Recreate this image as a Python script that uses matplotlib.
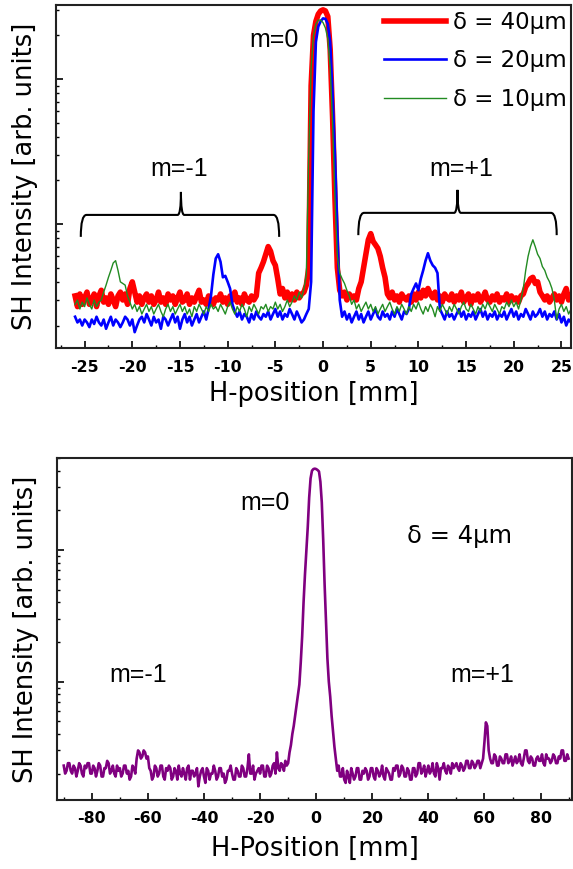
import numpy as np
import matplotlib.pyplot as plt
from matplotlib.path import Path
from matplotlib.patches import PathPatch
from matplotlib.ticker import MultipleLocator, NullFormatter

plt.rcParams["axes.unicode_minus"] = False

# ---- values (SH intensity, arb. units, log axis) ----
# upper panel: scan from -26 to 26 mm, one reading every 0.25 mm
top_x_range = (-26.0, 26.0)
red_40um = [
    3.2, 2.7, 3.3, 2.8, 3.1, 3.4, 2.8, 3.0, 3.3, 2.7, 3.2, 3.5, 2.9, 3.1, 2.8, 3.3, 3.0, 2.7, 3.2, 3.4,
    3.0, 3.3, 2.8, 3.6, 4.0, 3.4, 2.9, 3.2, 2.8, 3.1, 3.3, 2.9, 3.2, 2.8, 3.0, 3.4, 2.9, 3.1, 2.8, 3.3,
    3.0, 3.2, 2.8, 3.1, 3.4, 2.9, 3.0, 3.3, 2.8, 3.1, 2.9, 3.2, 3.5, 2.9, 3.0, 2.8, 3.2, 3.0, 2.8, 3.1,
    3.0, 3.3, 2.9, 3.1, 2.8, 3.2, 3.0, 3.4, 2.9, 3.1, 2.8, 3.3, 3.0, 2.9, 3.2, 3.0, 3.2, 4.6, 5.0, 5.5,
    6.2, 7.0, 6.5, 5.6, 5.2, 4.2, 3.3, 3.6, 3.1, 3.4, 3.0, 3.3, 3.0, 3.4, 3.1, 3.3, 3.4, 3.8, 5.0, 90,
    200, 250, 280, 295, 300, 295, 270, 160, 55, 15, 5.0, 3.5, 3.2, 3.4, 3.0, 3.3, 3.1, 3.2, 3.0, 3.6,
    4.0, 5.0, 6.2, 7.8, 8.6, 7.6, 7.2, 6.8, 6.0, 5.0, 4.3, 3.3, 3.1, 3.4, 3.0, 3.2, 2.9, 3.3, 3.1, 3.0,
    3.2, 2.9, 3.3, 3.0, 3.4, 3.1, 3.5, 3.2, 3.6, 3.3, 3.1, 3.4, 3.0, 3.2, 2.9, 3.3, 3.1, 3.0, 3.3, 2.9,
    3.2, 3.0, 3.4, 2.9, 3.1, 3.3, 2.8, 3.2, 3.0, 3.3, 2.9, 3.1, 3.4, 3.0, 2.9, 3.2, 3.0, 3.3, 2.9, 3.1,
    3.0, 3.3, 2.9, 3.2, 3.0, 3.1, 2.9, 3.2, 3.3, 3.7, 3.9, 4.2, 4.3, 3.9, 4.0, 3.4, 3.2, 3.0, 3.2, 2.9,
    3.1, 3.3, 3.0, 3.2, 2.9, 3.3, 3.6, 3.0, 3.2,
]
blue_20um = [
    2.3, 2.1, 2.2, 2.0, 2.2, 2.1, 1.95, 2.2, 2.05, 2.3, 2.1, 2.0, 2.2, 1.9, 2.1, 2.3, 2.0, 2.2, 2.1, 1.95,
    2.1, 2.3, 2.2, 2.0, 2.2, 1.8, 2.0, 2.2, 2.3, 2.1, 2.4, 2.2, 2.0, 2.3, 2.1, 2.2, 1.9, 2.3, 2.2, 2.0,
    2.2, 2.4, 2.1, 2.3, 1.9, 2.2, 2.4, 2.1, 2.3, 2.0, 2.2, 2.4, 2.1, 2.3, 2.5, 2.2, 2.6, 3.2, 4.5, 5.8,
    6.2, 5.5, 4.3, 4.4, 4.0, 3.6, 2.8, 2.5, 2.3, 2.5, 2.2, 2.4, 2.3, 2.1, 2.4, 2.2, 2.5, 2.3, 2.2, 2.4,
    2.3, 2.5, 2.2, 2.4, 2.6, 2.3, 2.5, 2.2, 2.4, 2.3, 2.6, 2.4, 2.2, 2.5, 2.3, 2.1, 2.2, 2.4, 2.6, 4.0,
    60, 180, 230, 250, 262, 260, 240, 180, 80, 30, 9.0, 3.0, 2.3, 2.5, 2.2, 2.4, 2.1, 2.3, 2.5, 2.2,
    2.4, 2.1, 2.3, 2.5, 2.2, 2.4, 2.6, 2.3, 2.2, 2.5, 2.3, 2.4, 2.2, 2.5, 2.3, 2.6, 2.4, 2.2, 2.5, 2.4,
    2.6, 3.3, 3.6, 3.9, 3.5, 4.2, 4.8, 5.6, 6.3, 5.6, 5.2, 5.0, 4.6, 2.6, 2.4, 2.2, 2.5, 2.3, 2.4, 2.2,
    2.4, 2.6, 2.3, 2.5, 2.2, 2.4, 2.3, 2.5, 2.2, 2.4, 2.6, 2.3, 2.5, 2.2, 2.4, 2.3, 2.5, 2.2, 2.4, 2.3,
    2.5, 2.2, 2.4, 2.6, 2.3, 2.5, 2.2, 2.4, 2.3, 2.6, 2.4, 2.2, 2.5, 2.3, 2.4, 2.6, 2.3, 2.5, 2.2, 2.4,
    2.3, 2.5, 2.2, 2.4, 2.1, 2.3, 2.0, 2.2, 2.1,
]
green_10um = [
    2.8, 3.0, 2.6, 2.9, 2.7, 3.1, 2.8, 2.6, 3.0, 2.7, 2.9, 3.0, 3.4, 3.8, 4.3, 4.8, 5.4, 5.6, 4.8, 4.0,
    3.9, 3.8, 3.2, 2.9, 2.6, 2.8, 2.5, 2.7, 2.4, 2.6, 2.8, 2.5, 2.7, 2.4, 2.6, 2.8, 2.5, 2.3, 2.6, 2.8,
    2.5, 2.7, 2.4, 2.6, 2.8, 2.5, 2.7, 2.4, 2.6, 2.3, 2.7, 2.5, 2.8, 2.6, 2.4, 2.7, 2.5, 2.8, 2.6, 2.7,
    2.5, 2.8, 2.6, 2.4, 2.7, 2.9, 2.6, 2.4, 2.7, 2.5, 2.8, 2.6, 2.3, 2.7, 2.5, 2.8, 2.6, 2.4, 2.7, 2.6,
    2.8, 2.5, 2.7, 2.6, 2.9, 2.6, 2.8, 2.5, 2.7, 3.0, 2.7, 2.9, 3.2, 3.0, 3.4, 3.1, 3.6, 4.5, 30, 120,
    200, 240, 255, 255, 245, 225, 190, 120, 50, 15, 6.0, 4.6, 4.2, 3.9, 3.5, 3.2, 2.8, 3.0, 2.6, 2.8,
    2.5, 2.7, 2.9, 2.6, 2.8, 2.5, 2.7, 2.4, 2.6, 2.8, 2.5, 2.7, 2.9, 2.6, 2.4, 2.7, 2.5, 2.8, 2.6, 2.4,
    2.7, 2.5, 2.8, 2.6, 2.9, 2.6, 2.4, 2.7, 2.5, 2.8, 2.6, 2.3, 2.7, 2.5, 2.8, 2.6, 2.4, 2.7, 2.5, 2.8,
    2.6, 2.4, 2.7, 2.9, 2.6, 2.5, 2.8, 2.6, 2.4, 2.7, 2.5, 2.8, 2.6, 2.9, 2.7, 2.5, 2.8, 2.6, 2.4, 2.7,
    2.6, 2.9, 2.7, 3.0, 2.7, 2.9, 2.6, 3.0, 3.6, 4.8, 6.0, 7.0, 7.8, 7.0, 6.2, 5.8, 5.1, 4.8, 4.3, 4.0,
    3.6, 3.0, 2.2, 2.6, 2.8, 2.5, 2.7, 2.4, 2.6,
]
top_series = [red_40um, blue_20um, green_10um]
top_labels = ["δ = 40μm", "δ = 20μm", "δ = 10μm"]
top_colors = ["#ff0000", "#0000ff", "#228b22"]
top_widths = [4.0, 1.9, 1.0]

# lower panel: scan from -90 to 90 mm, one reading every 0.5 mm
bottom_x_range = (-90.0, 90.0)
purple_4um = [
    2.3, 2.0, 2.1, 2.4, 2.4, 2.1, 2.0, 2.3, 2.2, 1.9, 2.1, 2.4, 2.3, 2.0, 1.9, 2.3, 2.2, 2.4, 2.4, 2.0,
    2.0, 2.3, 2.2, 1.9, 2.1, 2.4, 2.3, 1.9, 1.9, 2.2, 2.2, 2.5, 2.4, 2.0, 2.1, 2.3, 2.0, 1.9, 2.3, 2.1,
    2.2, 1.9, 2.0, 2.3, 2.3, 2.0, 2.1, 1.8, 1.9, 2.3, 2.2, 2.0, 2.6, 3.0, 2.9, 2.6, 2.7, 3.0, 2.9, 2.6,
    2.7, 2.2, 2.1, 1.8, 1.9, 2.3, 2.2, 1.9, 2.0, 2.3, 2.3, 1.9, 1.8, 2.2, 2.1, 2.3, 2.2, 1.8, 1.9, 2.2,
    2.1, 1.8, 2.3, 2.0, 1.9, 2.2, 2.0, 1.8, 2.2, 2.3, 1.8, 2.1, 2.1, 1.9, 2.0, 2.2, 1.6, 1.9, 2.1, 2.2,
    1.9, 1.7, 2.2, 2.1, 1.8, 2.0, 2.0, 2.3, 2.1, 1.8, 1.9, 2.2, 2.2, 1.9, 2.0, 1.7, 1.8, 2.1, 2.1, 2.3,
    2.0, 1.8, 1.8, 2.2, 2.1, 1.9, 1.9, 2.3, 2.2, 1.9, 1.9, 2.2, 2.8, 2.0, 2.0, 2.3, 1.8, 2.0, 2.1, 2.2,
    2.0, 2.3, 2.3, 1.9, 1.9, 2.3, 2.2, 1.9, 2.0, 2.3, 2.4, 2.0, 2.9, 2.2, 2.1, 2.4, 2.3, 2.1, 2.5, 2.3,
    2.4, 2.9, 3.3, 4.0, 4.6, 5.5, 6.5, 7.8, 9.5, 14, 22, 40, 65, 100, 150, 250, 350, 400, 412, 415,
    412, 405, 395, 330, 230, 120, 55, 28, 15, 10, 7.7, 5.5, 4.2, 3.2, 2.6, 2.1, 2.3, 1.9, 1.9, 2.2,
    1.8, 1.7, 2.1, 1.9, 1.7, 2.2, 2.0, 1.8, 1.9, 2.2, 2.2, 1.8, 1.8, 2.1, 2.0, 2.2, 2.1, 1.8, 1.9, 2.2,
    2.2, 1.9, 1.8, 2.2, 2.1, 1.9, 2.0, 2.3, 1.9, 1.8, 2.2, 2.1, 2.0, 1.8, 1.8, 2.2, 2.1, 2.3, 2.3, 1.9,
    2.0, 2.3, 2.2, 1.9, 1.9, 2.2, 2.1, 1.8, 1.8, 2.2, 2.2, 1.9, 2.0, 2.4, 2.4, 2.0, 2.1, 2.3, 1.9, 2.1,
    2.3, 2.0, 2.1, 2.4, 2.0, 1.9, 2.4, 2.2, 1.8, 2.2, 2.2, 2.4, 2.1, 2.0, 2.3, 2.2, 2.0, 2.4, 2.2, 2.3,
    2.4, 2.2, 2.1, 2.4, 2.3, 2.1, 2.2, 2.5, 2.5, 2.2, 2.2, 2.5, 2.4, 2.2, 2.3, 2.5, 2.5, 2.2, 2.4, 2.6,
    3.5, 4.9, 4.6, 3.0, 2.6, 2.4, 2.4, 2.8, 2.7, 2.3, 2.3, 2.7, 2.6, 2.4, 2.4, 2.8, 2.8, 2.4, 2.5, 2.7,
    2.3, 2.5, 2.7, 2.4, 2.5, 2.8, 2.4, 2.3, 2.6, 3.0, 3.0, 2.5, 2.4, 2.7, 2.6, 2.3, 2.3, 2.6, 2.7, 2.5,
    2.5, 2.8, 2.4, 2.3, 2.8, 2.6, 2.6, 2.4, 2.5, 2.8, 2.7, 2.4, 2.4, 2.7, 2.6, 3.0, 3.0, 2.5, 2.5, 2.8,
    2.6,
]
purple_color = "#800080"

LABEL_FONT = "DejaVu Sans"
NOTE_FONT = "Liberation Sans"


def style_axes(ax, major, minor, xlim, ylim, pad):
    ax.set_yscale("log")
    ax.set_xlim(*xlim)
    ax.set_ylim(*ylim)
    ax.xaxis.set_major_locator(MultipleLocator(major))
    ax.xaxis.set_minor_locator(MultipleLocator(minor))
    ax.yaxis.set_major_formatter(NullFormatter())
    ax.yaxis.set_minor_formatter(NullFormatter())
    ax.tick_params(which="both", direction="in", top=False, right=False)
    ax.tick_params(which="major", length=5, width=1.2, pad=pad)
    ax.tick_params(which="minor", length=2.5, width=1.0)
    for lab in ax.get_xticklabels():
        lab.set_fontfamily(LABEL_FONT)
        lab.set_fontweight("bold")
        lab.set_fontsize(11.3)
    for sp in ax.spines.values():
        sp.set_linewidth(1.5)
        sp.set_color("#222222")


def brace(ax, x0, x1, xm, y_end, y_base, y_tip, dx=0.6, dt=0.35):
    # curly bracket, x in data units, y in axes fraction
    verts = [(x0, y_end), (x0, y_base), (x0 + dx, y_base),
             (xm - dt, y_base),
             (xm, y_base), (xm, y_tip),
             (xm, y_base), (xm + dt, y_base),
             (x1 - dx, y_base),
             (x1, y_base), (x1, y_end)]
    codes = [Path.MOVETO, Path.CURVE3, Path.CURVE3,
             Path.LINETO,
             Path.CURVE3, Path.CURVE3,
             Path.CURVE3, Path.CURVE3,
             Path.LINETO,
             Path.CURVE3, Path.CURVE3]
    patch = PathPatch(Path(verts, codes), fill=False, lw=1.5, color="black",
                      transform=ax.get_xaxis_transform(), clip_on=False)
    ax.add_patch(patch)


fig = plt.figure(figsize=(5.73, 8.69), dpi=100)

# ---------------- upper panel ----------------
ax1 = fig.add_axes([56 / 573, 521 / 869, 515 / 573, 343 / 869])
for vals, lab, col, lw in zip(top_series, top_labels, top_colors, top_widths):
    x = np.linspace(top_x_range[0], top_x_range[1], len(vals))
    ax1.plot(x, vals, color=col, lw=lw, label=lab)
style_axes(ax1, 5, 2.5, (-28, 26), (1.4, 324), 9)

ax1.set_xlabel("H-position [mm]", fontsize=18.5, family=LABEL_FONT)
ax1.set_ylabel("SH Intensity [arb. units]", fontsize=18.5, family=LABEL_FONT)
ax1.xaxis.set_label_coords(0.5, -0.097)
ax1.yaxis.set_label_coords(-0.035, 0.5)

ax1.legend(loc="upper right", bbox_to_anchor=(1.0, 0.997), frameon=False,
           prop={"family": LABEL_FONT, "size": 16.5}, handlelength=2.7,
           handletextpad=0.3, labelspacing=0.68, borderaxespad=0.1, borderpad=0.1)

tr1 = ax1.get_xaxis_transform()
ax1.text(-5.1, 0.878, "m=0", transform=tr1, ha="center", va="baseline",
         fontsize=18, family=NOTE_FONT)
ax1.text(-15.1, 0.5, "m=-1", transform=tr1, ha="center", va="baseline",
         fontsize=18, family=NOTE_FONT)
ax1.text(14.5, 0.5, "m=+1", transform=tr1, ha="center", va="baseline",
         fontsize=18, family=NOTE_FONT)
brace(ax1, -25.4, -4.6, -14.9, 0.324, 0.388, 0.455)
brace(ax1, 3.7, 24.5, 14.1, 0.329, 0.394, 0.461)

# ---------------- lower panel ----------------
ax2 = fig.add_axes([57 / 573, 69 / 869, 515 / 573, 342 / 869])
xb = np.linspace(bottom_x_range[0], bottom_x_range[1], len(purple_4um))
ax2.plot(xb, purple_4um, color=purple_color, lw=1.9)
style_axes(ax2, 20, 10, (-92.4, 91.2), (1.26, 500), 8)

ax2.set_xlabel("H-Position [mm]", fontsize=18.5, family=LABEL_FONT)
ax2.set_ylabel("SH Intensity [arb. units]", fontsize=18.5, family=LABEL_FONT)
ax2.xaxis.set_label_coords(0.5, -0.106)
ax2.yaxis.set_label_coords(-0.035, 0.5)

tr2 = ax2.get_xaxis_transform()
ax2.text(-18.2, 0.848, "m=0", transform=tr2, ha="center", va="baseline",
         fontsize=18, family=NOTE_FONT)
ax2.text(-63.6, 0.344, "m=-1", transform=tr2, ha="center", va="baseline",
         fontsize=18, family=NOTE_FONT)
ax2.text(59.3, 0.344, "m=+1", transform=tr2, ha="center", va="baseline",
         fontsize=18, family=NOTE_FONT)
ax2.text(51.0, 0.75, "δ = 4μm", transform=tr2, ha="center", va="baseline",
         fontsize=17.5, family=LABEL_FONT)

fig.savefig("out.png", dpi=100)
